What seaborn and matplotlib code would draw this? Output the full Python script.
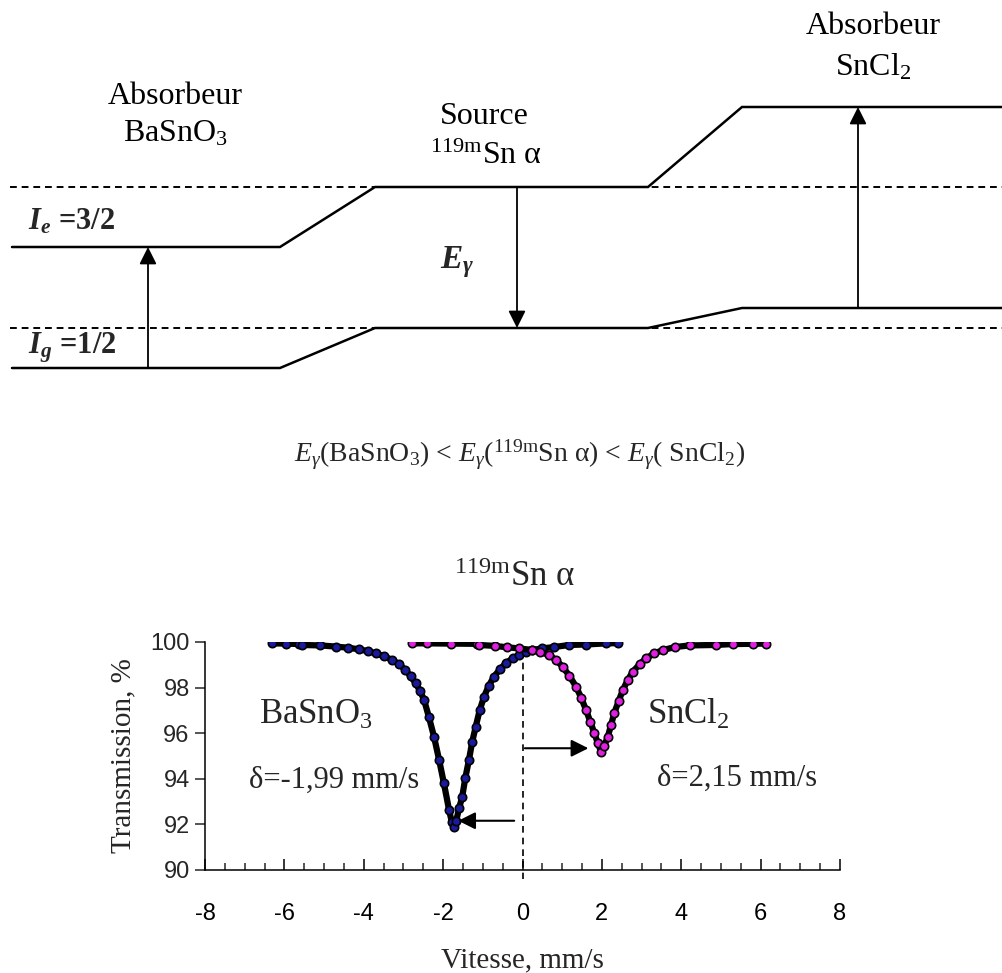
import numpy as np
import pandas as pd
import seaborn as sns
import matplotlib.pyplot as plt

# --- spectrum data ---
basno3_v = [-6.31, -5.95, -5.64, -5.56, -5.10, -4.71, -4.40, -4.12, -3.90, -3.70,
            -3.48, -3.28, -3.10, -2.95, -2.82, -2.69, -2.58, -2.48, -2.36, -2.23,
            -2.10, -1.98, -1.85, -1.78, -1.73, -1.67, -1.60, -1.52, -1.44, -1.35,
            -1.27, -1.18, -1.08, -0.97, -0.85, -0.72, -0.57, -0.42, -0.25, -0.08,
            0.08, 0.25, 0.50, 0.80, 1.18, 1.60, 2.10, 2.40]
basno3_t = [99.94, 99.93, 99.91, 99.87, 99.85, 99.80, 99.75, 99.68, 99.60, 99.50,
            99.37, 99.21, 99.02, 98.77, 98.50, 98.19, 97.85, 97.46, 96.72, 95.85,
            94.82, 93.80, 92.63, 92.10, 91.90, 92.15, 92.70, 93.20, 94.05, 94.82,
            95.60, 96.28, 97.00, 97.60, 98.08, 98.48, 98.80, 99.07, 99.28, 99.43,
            99.55, 99.65, 99.72, 99.78, 99.87, 99.89, 99.94, 99.95]

sncl2_v = [-2.78, -2.40, -1.80, -1.15, -1.10, -0.70, -0.40, -0.10, 0.25, 0.45,
           0.67, 0.85, 1.01, 1.18, 1.35, 1.48, 1.60, 1.71, 1.81, 1.90,
           1.98, 2.06, 2.15, 2.23, 2.31, 2.42, 2.53, 2.65, 2.78, 2.95,
           3.11, 3.32, 3.54, 3.85, 4.21, 4.87, 5.30, 5.80, 6.14]
sncl2_t = [99.94, 99.94, 99.93, 99.92, 99.87, 99.83, 99.77, 99.72, 99.65, 99.56,
           99.43, 99.20, 98.92, 98.52, 98.04, 97.55, 97.02, 96.50, 96.00, 95.55,
           95.19, 95.45, 95.85, 96.35, 96.87, 97.40, 97.90, 98.33, 98.70, 99.02,
           99.28, 99.50, 99.65, 99.78, 99.85, 99.87, 99.91, 99.92, 99.93]

x_ticks = [-8, -6, -4, -2, 0, 2, 4, 6, 8]
y_ticks = [90, 92, 94, 96, 98, 100]

# --- energy level scheme (figure pixel coords) ---
level_x = [12, 280, 375, 648, 742, 1003]
excited_y = [247, 247, 187, 187, 107, 107]
ground_y = [368, 368, 328, 328, 308, 308]
ref_lines_y = [187, 328]
transitions = [(148, 368, 247), (517, 187, 328), (858, 308, 107)]  # x, from, to

sns.set_theme(style="white")
plt.rcParams['font.family'] = ['Liberation Serif', 'DejaVu Serif']
plt.rcParams['mathtext.fontset'] = 'custom'
plt.rcParams['mathtext.rm'] = 'Liberation Serif'
plt.rcParams['mathtext.it'] = 'Liberation Serif:italic'
plt.rcParams['mathtext.bf'] = 'Liberation Serif:italic:bold'
plt.rcParams['axes.unicode_minus'] = False

fig = plt.figure(figsize=(10.03, 9.73), dpi=100)

# overlay for the level diagram and free text
ax0 = fig.add_axes([0, 0, 1, 1])
ax0.set_xlim(0, 1003)
ax0.set_ylim(973, 0)
ax0.axis('off')

for yy in ref_lines_y:
    ax0.plot([10, 1003], [yy, yy], color='black', lw=1.4, ls=(0, (3.5, 2.5)))
ax0.plot(level_x, excited_y, color='black', lw=1.8, solid_joinstyle='miter')
ax0.plot(level_x, ground_y, color='black', lw=1.8, solid_joinstyle='miter')
for xx, y0, y1 in transitions:
    ax0.annotate('', xy=(xx, y1), xytext=(xx, y0),
                 arrowprops=dict(arrowstyle='-|>', color='black', lw=1.3,
                                 mutation_scale=26, shrinkA=0, shrinkB=0))

lab = dict(ha='center', va='center', fontsize=23, color='black')
ax0.text(175, 96, 'Absorbeur', **lab)
ax0.text(175, 134, 'BaSnO$_3$', **lab)
ax0.text(484, 116, 'Source', **lab)
ax0.text(486, 156, r'$^{119\mathrm{m}}$Sn α', **lab)
ax0.text(873, 27, 'Absorbeur', **lab)
ax0.text(873, 67, 'SnCl$_2$', **lab)
ax0.text(28, 222, r'$\mathbf{I}_{\mathbf{e}}$ =3/2', ha='left', va='center',
         fontsize=22, fontweight='bold')
ax0.text(28, 348, r'$\mathbf{I}_{\mathbf{g}}$ =1/2', ha='left', va='center',
         fontsize=22, fontweight='bold')
ax0.text(440, 262, r'$\mathbf{E}_{\mathbf{\gamma}}$', ha='left', va='center',
         fontsize=24)

ax0.text(520, 455, r'$E_\gamma$(BaSnO$_3$) < $E_\gamma$($^{119\mathrm{m}}$Sn α) < $E_\gamma$( SnCl$_2$)',
         ha='center', va='center', fontsize=20)
ax0.text(515, 577, r'$^{119\mathrm{m}}$Sn α', ha='center', va='center', fontsize=25)

# spectrum axes
ax = fig.add_axes([205 / 1003, (973 - 870) / 973, 635 / 1003, 228 / 973])
ax.patch.set_alpha(0)

df1 = pd.DataFrame({'v': basno3_v, 't': basno3_t})
df2 = pd.DataFrame({'v': sncl2_v, 't': sncl2_t})
sns.lineplot(data=df1, x='v', y='t', ax=ax, color='black', lw=4.5, marker='o',
             markersize=6, markerfacecolor='#1a1a9c', markeredgecolor='black',
             markeredgewidth=1.2, zorder=3)
sns.lineplot(data=df2, x='v', y='t', ax=ax, color='black', lw=4.5, marker='o',
             markersize=6, markerfacecolor='#e020e0', markeredgecolor='black',
             markeredgewidth=1.2, zorder=3)

ax.plot([0, 0], [99.6, 89.6], color='black', lw=1.2, ls=(0, (4, 3)), clip_on=False)
ax.annotate('', xy=(-1.62, 92.16), xytext=(-0.21, 92.16),
            arrowprops=dict(arrowstyle='-|>', color='black', lw=1.5,
                            mutation_scale=26, shrinkA=0, shrinkB=0))
ax.annotate('', xy=(1.66, 95.34), xytext=(0.06, 95.34),
            arrowprops=dict(arrowstyle='-|>', color='black', lw=1.5,
                            mutation_scale=26, shrinkA=0, shrinkB=0))

ax.text(-5.2, 96.8, 'BaSnO$_3$', ha='center', va='center', fontsize=25)
ax.text(-4.75, 93.95, 'δ=-1,99 mm/s', ha='center', va='center', fontsize=22)
ax.text(4.17, 96.8, 'SnCl$_2$', ha='center', va='center', fontsize=25)
ax.text(5.4, 94.0, 'δ=2,15 mm/s', ha='center', va='center', fontsize=22)

ax.set_xlim(-8, 8)
ax.set_ylim(90, 100)
ax.set_xticks(x_ticks)
ax.set_xticks(np.arange(-8, 8.01, 0.5), minor=True)
ax.set_yticks(y_ticks)
for s in ['top', 'right']:
    ax.spines[s].set_visible(False)
for s in ['left', 'bottom']:
    ax.spines[s].set_color('black')
    ax.spines[s].set_linewidth(1.1)
ax.tick_params(axis='x', which='major', direction='in', length=8, width=1.1,
               pad=24, colors='black', bottom=True)
ax.tick_params(axis='x', which='minor', direction='in', length=5, width=1.1,
               bottom=True)
ax.tick_params(axis='y', direction='out', length=7, width=1.1, left=True, pad=4)
for lbl in ax.get_xticklabels() + ax.get_yticklabels():
    lbl.set_family('Liberation Sans')
    lbl.set_fontsize(17)
ax.set_xlabel('Vitesse, mm/s', fontsize=21, labelpad=16)
ax.set_ylabel('Transmission, %', fontsize=21, labelpad=10)

fig.savefig('out.png', dpi=100)
